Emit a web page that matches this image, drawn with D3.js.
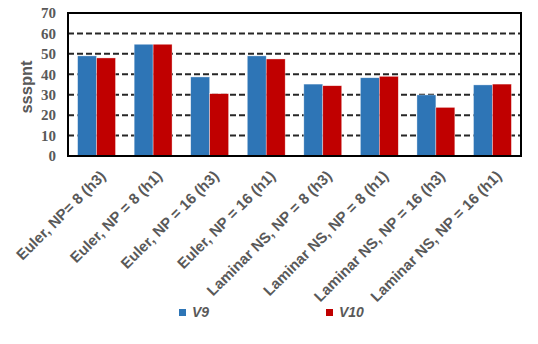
<!DOCTYPE html>
<html>
<head>
<meta charset="utf-8">
<script src="https://cdn.jsdelivr.net/npm/d3@7"></script>
<style>
  body { margin: 0; background: #fff; }
  svg { display: block; }
</style>
</head>
<body>
<script>
var width = 538, height = 344;
var margin = {top: 13, right: 17, bottom: 188, left: 68};

var categories = ["Euler, NP= 8 (h3)", "Euler, NP = 8 (h1)", "Euler, NP = 16 (h3)", "Euler, NP = 16 (h1)",
  "Laminar NS, NP = 8 (h3)", "Laminar NS, NP = 8 (h1)", "Laminar NS, NP = 16 (h3)", "Laminar NS, NP = 16 (h1)"];
var seriesNames = ["V9", "V10"];
var v9 = [49, 54.7, 38.7, 49, 35.2, 38.3, 29.9, 34.8];
var v10 = [48, 54.7, 30.5, 47.5, 34.4, 39, 23.8, 35.2];
var yTicks = [0, 10, 20, 30, 40, 50, 60, 70];

var colors = {V9: "#2E75B6", V10: "#C00000"};

var data1 = categories.map(function(c, i) {
  return {name: c, values: [{key: "V9", value: v9[i]}, {key: "V10", value: v10[i]}]};
});

var svg = d3.select("body").append("svg")
    .attr("width", width)
    .attr("height", height);

var x = d3.scaleBand()
    .domain(categories)
    .range([margin.left, width - margin.right])
    .paddingInner(0.33)
    .paddingOuter(0.17);

var xSub = d3.scaleBand()
    .domain(seriesNames)
    .range([0, x.bandwidth()]);

var y = d3.scaleLinear()
    .domain([0, 70])
    .range([height - margin.bottom, margin.top]);

// dashed gridlines
svg.append("g")
  .selectAll("line")
  .data(yTicks.filter(d => d > 0 && d < 70))
  .join("line")
    .attr("x1", margin.left)
    .attr("x2", width - margin.right)
    .attr("y1", d => y(d))
    .attr("y2", d => y(d))
    .attr("stroke", "#262626")
    .attr("stroke-width", 2)
    .attr("stroke-dasharray", "6,3");

// bars
svg.append("g")
  .selectAll("g")
  .data(data1)
  .join("g")
    .attr("transform", d => `translate(${x(d.name)},0)`)
  .selectAll("rect")
  .data(d => d.values)
  .join("rect")
    .attr("x", d => xSub(d.key))
    .attr("y", d => y(d.value))
    .attr("width", xSub.bandwidth())
    .attr("height", d => y(0) - y(d.value))
    .attr("fill", d => colors[d.key])
    .attr("stroke", "rgba(255,255,255,0.6)")
    .attr("stroke-width", 0.6);

// plot border
svg.append("rect")
    .attr("x", margin.left)
    .attr("y", margin.top)
    .attr("width", width - margin.right - margin.left)
    .attr("height", height - margin.bottom - margin.top)
    .attr("fill", "none")
    .attr("stroke", "#000")
    .attr("stroke-width", 2);

// y axis
var yAxis = g => g
    .attr("transform", `translate(${margin.left},0)`)
    .call(d3.axisLeft(y).tickValues(yTicks).tickSize(0).tickPadding(12))
    .call(g => g.select(".domain").remove())
    .call(g => g.selectAll("text")
        .attr("fill", "#595959")
        .style("font-family", "'Liberation Serif', 'Times New Roman', serif")
        .style("font-weight", "bold")
        .style("font-size", "15px"));
svg.append("g").call(yAxis);

//label for y-axis
svg.append("text")
    .attr("transform", "rotate(-90)")
    .attr("x", -87)
    .attr("y", 31.5)
    .attr("text-anchor", "middle")
    .attr("fill", "#595959")
    .style("font-family", "'Liberation Sans', Arial, sans-serif")
    .style("font-weight", "bold")
    .style("font-size", "16.5px")
    .text("ssspnt");

// x labels, rotated
svg.append("g")
  .selectAll("text")
  .data(categories)
  .join("text")
    .attr("transform", d => `translate(${x(d) + x.bandwidth() / 2 + 10},177) rotate(-45)`)
    .attr("text-anchor", "end")
    .attr("fill", "#595959")
    .style("font-family", "'Liberation Sans', Arial, sans-serif")
    .style("font-weight", "bold")
    .style("font-size", "15px")
    .text(d => d);

// legend
var legendX = [179, 326];
var legend = svg.append("g")
  .selectAll("g")
  .data(seriesNames)
  .join("g")
    .attr("transform", (d, i) => `translate(${legendX[i]},309)`);
legend.append("rect")
    .attr("width", 7)
    .attr("height", 7)
    .attr("fill", d => colors[d]);
legend.append("text")
    .attr("x", 13)
    .attr("y", 8)
    .attr("fill", "#595959")
    .style("font-family", "'Liberation Sans', Arial, sans-serif")
    .style("font-weight", "bold")
    .style("font-style", "italic")
    .style("font-size", "14px")
    .text(d => d);
</script>
</body>
</html>
